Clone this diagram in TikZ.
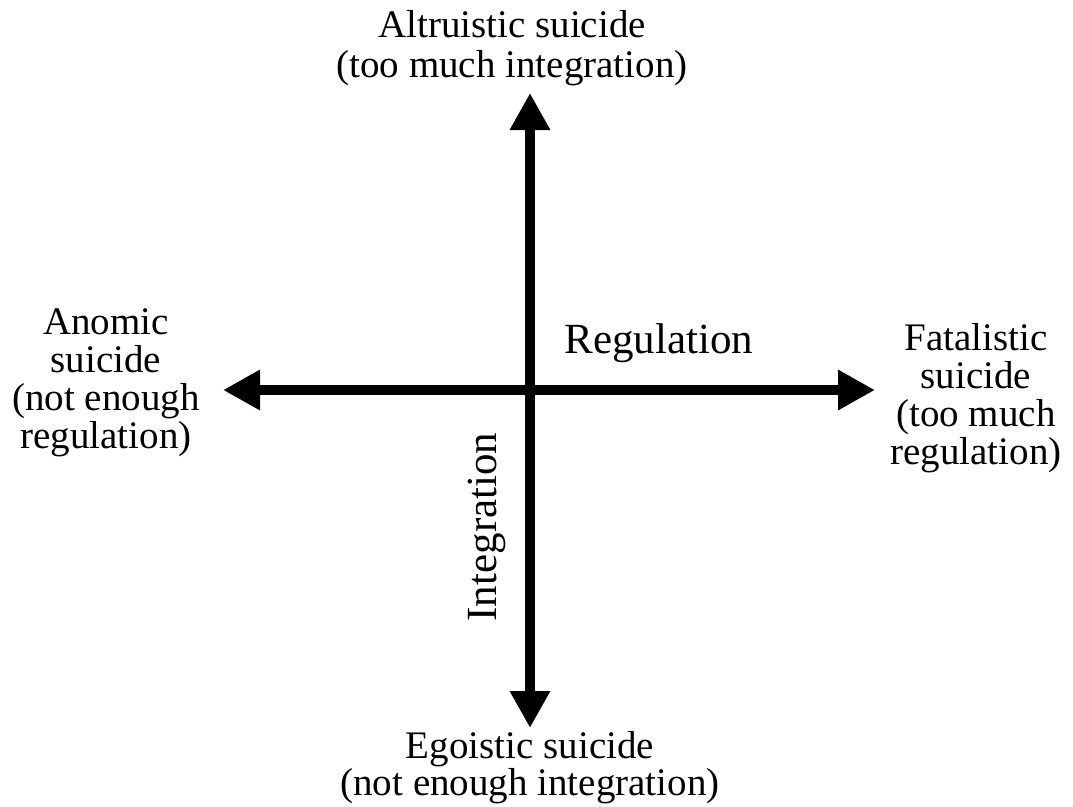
\documentclass[tikz,border=0pt]{standalone}
\usepackage{fontspec}
\setmainfont{Liberation Serif}
\usetikzlibrary{arrows.meta,positioning}

\begin{document}
\begin{tikzpicture}[
  x=1pt, y=-1pt,
  label text/.style={align=center, font=\fontsize{39}{38}\selectfont, inner sep=0pt},
  axis label/.style={font=\fontsize{43}{43}\selectfont, inner sep=0pt},
  axis/.style={line width=10pt, {Triangle[length=37pt,width=38pt]}-{Triangle[length=37pt,width=38pt]}}
]
  \useasboundingbox (0,0) rectangle (1073,806);
  % arrow ends
  \coordinate (top) at (530,93);
  \coordinate (bottom) at (530,728);
  \coordinate (left) at (223,390);
  \coordinate (right) at (875,390);
  % the four kinds of suicide
  \node[label text, font=\fontsize{39}{40}\selectfont] (altruistic) at (512,48) {Altruistic suicide\\(too much integration)};
  \node[label text, font=\fontsize{39}{37}\selectfont] (egoistic) at (530,768) {Egoistic suicide\\(not enough integration)};
  \node[label text] (anomic) at (106,383) {Anomic\\suicide\\(not enough\\regulation)};
  \node[label text] (fatalistic) at (976,398) {Fatalistic\\suicide\\(too much\\regulation)};
  % axes
  \draw[axis] (bottom) -- (top);
  \draw[axis] (left) -- (right);
  \node[axis label] (regulation) at (659,343) {Regulation};
  \node[axis label, rotate=90] (integration) at (487,527) {Integration};
\end{tikzpicture}
\end{document}
